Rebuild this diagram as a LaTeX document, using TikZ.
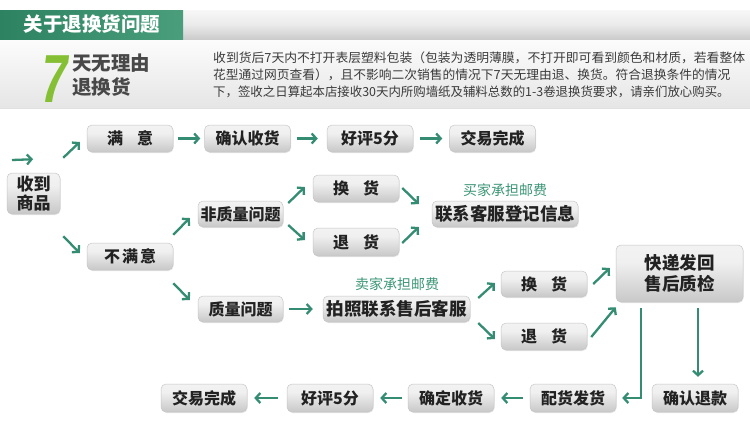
\documentclass[tikz,border=0pt]{standalone}
\usepackage{fontspec}
\setmainfont{Noto Sans CJK SC}
\newfontfamily\latinb{Liberation Sans}
\usetikzlibrary{arrows.meta,shadows,calc}
\definecolor{arrowc}{RGB}{52,140,115}
\definecolor{labelc}{RGB}{60,150,118}
\definecolor{txtc}{RGB}{34,34,34}
\definecolor{paratxt}{RGB}{58,58,58}
\definecolor{sevenc}{RGB}{132,191,52}
\definecolor{headtxt}{RGB}{72,72,72}
\definecolor{greenL}{RGB}{44,130,97}
\definecolor{greenR}{RGB}{74,158,124}
\pgfdeclareverticalshading{boxsh}{100bp}{color(0bp)=(black!36); color(20bp)=(black!24); color(60bp)=(black!6); color(88bp)=(black!4); color(100bp)=(black!14)}
\begin{document}
\begin{tikzpicture}[x=1pt,y=-1pt,
  box/.style={rounded corners=5pt, shading=boxsh, draw=black!22, line width=0.5pt,
    text=txtc, font=\bfseries\fontsize{16}{18}\selectfont, inner sep=0pt, align=center,
    drop shadow={opacity=0.18, shadow xshift=0.6pt, shadow yshift=-1pt}},
  sbox/.style={box, minimum width=86pt, minimum height=27pt},
  wbox/.style={box, minimum width=147pt, minimum height=26pt, font=\bfseries\fontsize{17.5}{19}\selectfont},
  arr/.style={draw=arrowc, line width=2.3pt, -{Straight Barb[length=4.5pt,width=10pt]}},
  glabel/.style={text=labelc, font=\fontsize{14}{16}\selectfont, inner sep=0pt},
  para/.style={text=paratxt, font=\fontsize{12.5}{14}\selectfont, inner sep=0pt, anchor=west}
]
\useasboundingbox (0,0) rectangle (750,424);
\fill[white] (0,0) rectangle (750,424);
% header panel
\shade[top color=black!1, bottom color=black!10] (0,39) rectangle (750,108);
\draw[black!12, line width=0.6pt] (0,108) -- (750,108);
\shade[top color=black!3, bottom color=black!20, middle color=black!8] (183,10) rectangle (750,39);
\shade[left color=greenL, right color=greenR] (0,10) rectangle (183,39);
\node[text=white, font=\bfseries\fontsize{19.5}{21}\selectfont, inner sep=0pt] (title) at (92,24.5) {关于退换货问题};
\node[text=sevenc, font=\latinb\bfseries\fontsize{68}{68}\selectfont, inner sep=0pt, anchor=base, xscale=0.72, xslant=0.18] (seven) at (52,102) {7};
\node[text=headtxt, font=\bfseries\fontsize{19.5}{21}\selectfont, inner sep=0pt, anchor=west] (h1) at (72,63) {天无理由};
\node[text=headtxt, font=\bfseries\fontsize{19.5}{21}\selectfont, inner sep=0pt, anchor=west] (h2) at (72,87.5) {退换货};
\node[para, xscale=1.024] (p1) at (213,58) {收到货后7天内不打开表层塑料包装（包装为透明薄膜，不打开即可看到颜色和材质，若看整体};
\node[para, xscale=1.02] (p2) at (213,75) {花型通过网页查看），且不影响二次销售的情况下7天无理由退、换货。符合退换条件的情况};
\node[para, xscale=0.994] (p3) at (213,91.5) {下，签收之日算起本店接收30天内所购墙纸及辅料总数的1-3卷退换货要求，请亲们放心购买。};

% nodes
\node[box, minimum width=53pt, minimum height=41pt, font=\bfseries\fontsize{17}{19}\selectfont] (sd) at (33.5,193.5) {收到\\商品};
\node[sbox] (man) at (130,138.5) {满\hspace{14pt}意};
\node[sbox] (qr1) at (247.5,138.5) {确认收货};
\node[sbox] (hp1) at (370,138.5) {好评5分};
\node[sbox] (jy1) at (492.5,138.5) {交易完成};
\node[sbox] (bmy) at (130,256.5) {不\hspace{2pt}满\hspace{2pt}意};
\node[sbox, minimum width=85pt, minimum height=26pt] (fzl) at (240.5,214) {非质量问题};
\node[sbox] (hh1) at (356,188.5) {换\hspace{14pt}货};
\node[sbox, minimum height=28pt] (th1) at (356,242) {退\hspace{14pt}货};
\node[glabel] (lab1) at (505,190) {买家承担邮费};
\node[wbox, minimum width=146pt] (lxkf) at (505,214) {联系客服登记信息};
\node[sbox, minimum width=85pt, minimum height=26pt] (zl) at (240.5,309) {质量问题};
\node[glabel] (lab2) at (397,284) {卖家承担邮费};
\node[wbox] (pz) at (396.5,309) {拍照联系售后客服};
\node[sbox, minimum height=26pt] (hh2) at (544,284) {换\hspace{14pt}货};
\node[sbox] (th2) at (544,336.5) {退\hspace{14pt}货};
\node[box, minimum width=127pt, minimum height=57pt, font=\bfseries\fontsize{17.5}{21}\selectfont] (kd) at (679.5,273.5) {快递发回\\售后质检};
\node[sbox, minimum height=28pt] (qrtk) at (695,398) {确认退款};
\node[sbox, minimum height=28pt] (phfh) at (573,398) {配货发货};
\node[sbox, minimum height=28pt] (qdsh) at (451,398) {确定收货};
\node[sbox, minimum height=28pt] (hp2) at (330,398) {好评5分};
\node[sbox, minimum height=28pt] (jy2) at (204,398) {交易完成};

% connectors
\coordinate (start) at (12,160);
\draw[arr] (start) -- ([shift={(-0.5,-13.5)}]sd.north);
\draw[arr] ([shift={(3,-15)}]sd.north east) -- ([shift={(-7,3.5)}]man.west);
\draw[arr] ([shift={(3,22)}]sd.south east) -- ([shift={(-7,-3.5)}]bmy.west);
\draw[arr, shorten <=5pt, shorten >=4pt] (man.east) -- (qr1.west);
\draw[arr, shorten <=6pt, shorten >=9pt] (qr1.east) -- (hp1.west);
\draw[arr, shorten <=7pt, shorten >=7pt] (hp1.east) -- (jy1.west);
\draw[arr] ([shift={(0,-8)}]bmy.north east) -- ([shift={(-8,4)}]fzl.west);
\draw[arr] ([shift={(0,13)}]bmy.south east) -- ([shift={(-8,-9)}]zl.west);
\draw[arr] ([shift={(5,-11)}]fzl.east) -- ([shift={(-8,-1.5)}]hh1.west);
\draw[arr] ([shift={(5,11)}]fzl.east) -- ([shift={(-8,-2)}]th1.west);
\draw[arr] ([shift={(3,-0.5)}]hh1.east) -- ([shift={(-13,-10)}]lxkf.west);
\draw[arr] ([shift={(3,1)}]th1.east) -- ([shift={(-13,13)}]lxkf.west);
\draw[arr, shorten <=6pt, shorten >=10pt] (zl.east) -- (pz.west);
\draw[arr] ([shift={(8,-11)}]pz.east) -- ([shift={(-6,-1)}]hh2.west);
\draw[arr] ([shift={(8,14)}]pz.east) -- ([shift={(-6,2.5)}]th2.west);
\draw[arr] ([shift={(6,0)}]hh2.east) -- ([shift={(-6,-5.5)}]kd.west);
\draw[arr] ([shift={(4,0.5)}]th2.east) -- ([shift={(0,5)}]kd.south west);
\draw[arr] ([shift={(25,6)}]kd.south west) |- ([xshift=6pt]phfh.east);
\draw[arr] ([shift={(18.5,6)}]kd.south) -- ([shift={(3,-7)}]qrtk.north);
\draw[arr, shorten <=7pt, shorten >=7pt] (phfh.west) -- (qdsh.east);
\draw[arr, shorten <=6pt, shorten >=7pt] (qdsh.west) -- (hp2.east);
\draw[arr, shorten <=9pt, shorten >=7pt] (hp2.west) -- (jy2.east);
\end{tikzpicture}
\end{document}
